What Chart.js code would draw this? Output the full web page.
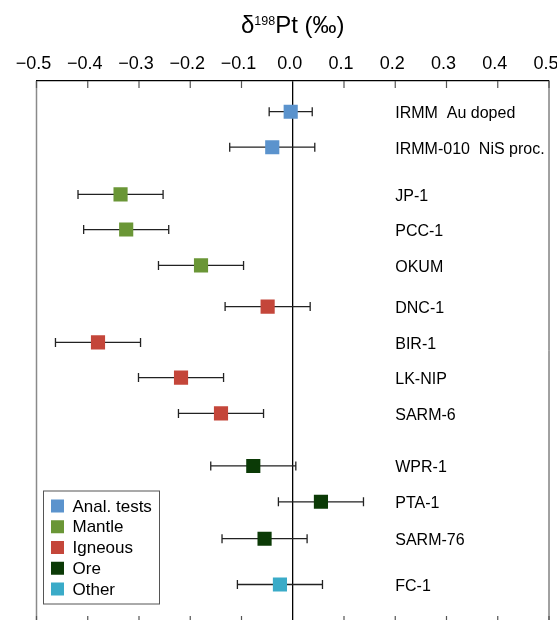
<!DOCTYPE html>
<html>
<head>
<meta charset="utf-8">
<script src="https://cdn.jsdelivr.net/npm/chart.js@4/dist/chart.umd.min.js"></script>
<style>
  html, body { margin: 0; padding: 0; background: #fff; overflow: hidden; }
</style>
</head>
<body>
<canvas id="chartPt" width="557" height="620"></canvas>
<script>
// sample data (delta198Pt in permil, 2sd error)
const sampleNames = ['IRMM  Au doped', 'IRMM-010  NiS proc.', 'JP-1', 'PCC-1', 'OKUM', 'DNC-1', 'BIR-1',
    'LK-NIP', 'SARM-6', 'WPR-1', 'PTA-1', 'SARM-76', 'FC-1'];
const sampleGroups = ['Anal. tests', 'Anal. tests', 'Mantle', 'Mantle', 'Mantle', 'Igneous', 'Igneous',
    'Igneous', 'Igneous', 'Ore', 'Ore', 'Ore', 'Other'];
const delta198Pt = [-0.004, -0.04, -0.336, -0.325, -0.179, -0.049, -0.380, -0.218, -0.140, -0.077, 0.055, -0.055, -0.025];
const err2sd = [0.042, 0.083, 0.083, 0.083, 0.083, 0.083, 0.083, 0.083, 0.083, 0.083, 0.083, 0.083, 0.083];
// vertical row position of each sample (groups are spaced apart a bit)
const rowPos = [1, 2, 3.33, 4.32, 5.33, 6.49, 7.5, 8.49, 9.5, 10.98, 11.99, 13.03, 14.32];

const groupNames = ['Anal. tests', 'Mantle', 'Igneous', 'Ore', 'Other'];
const groupColours = ['#5b93cd', '#6a9636', '#c4463a', '#0b3a06', '#3aabc8'];

const xTicks = [-0.5, -0.4, -0.3, -0.2, -0.1, 0, 0.1, 0.2, 0.3, 0.4, 0.5];
const xTickLabels = ['\u22120.5', '\u22120.4', '\u22120.3', '\u22120.2', '\u22120.1', '0.0', '0.1', '0.2', '0.3', '0.4', '0.5'];

const FONT = '"Liberation Sans", Arial, Helvetica, sans-serif';
const labelX = 0.2; // sample names start at this x value

const buildDatasets = function () {
    return groupNames.map(function (group, g) {
        let pts = [];
        sampleNames.forEach(function (name, i) {
            if (sampleGroups[i] === group) {
                pts.push({ x: delta198Pt[i], y: rowPos[i], err: err2sd[i], name: name });
            }
        });
        return {
            label: group,
            data: pts,
            backgroundColor: groupColours[g],
            borderColor: groupColours[g],
            borderWidth: 0,
            pointStyle: 'rect',
            pointRadius: 10,
            pointHoverRadius: 10
        };
    });
};

// horizontal error bars with end caps, drawn under the squares
const errorBarPlugin = {
    id: 'errorBars',
    beforeDatasetsDraw(chart) {
        const ctx = chart.ctx;
        const xs = chart.scales.x, ys = chart.scales.y;
        ctx.save();
        ctx.strokeStyle = '#222';
        ctx.lineWidth = 1.3;
        chart.data.datasets.forEach(ds => {
            ds.data.forEach(p => {
                const lo = xs.getPixelForValue(p.x - p.err);
                const hi = xs.getPixelForValue(p.x + p.err);
                const py = ys.getPixelForValue(p.y);
                ctx.beginPath();
                ctx.moveTo(lo, py); ctx.lineTo(hi, py);
                ctx.moveTo(lo, py - 4.5); ctx.lineTo(lo, py + 4.5);
                ctx.moveTo(hi, py - 4.5); ctx.lineTo(hi, py + 4.5);
                ctx.stroke();
            });
        });
        ctx.restore();
    }
};

// sample names, title, frame, inward ticks and the boxed legend
const decorPlugin = {
    id: 'decor',
    afterDatasetsDraw(chart) {
        const ctx = chart.ctx;
        const xs = chart.scales.x, ys = chart.scales.y;
        const area = chart.chartArea;
        ctx.save();

        // names
        ctx.font = '16px ' + FONT;
        ctx.fillStyle = '#000';
        ctx.textBaseline = 'middle';
        ctx.textAlign = 'left';
        chart.data.datasets.forEach(ds => {
            ds.data.forEach(p => {
                ctx.fillText(p.name, xs.getPixelForValue(labelX), ys.getPixelForValue(p.y) + 2);
            });
        });

        // frame: left (grey) and right
        ctx.lineWidth = 1.5;
        ctx.strokeStyle = '#8a8a8a';
        ctx.beginPath();
        ctx.moveTo(area.left, area.top); ctx.lineTo(area.left, area.bottom);
        ctx.stroke();
        ctx.lineWidth = 1;
        ctx.strokeStyle = '#444';
        ctx.beginPath();
        ctx.moveTo(area.right, area.top); ctx.lineTo(area.right, area.bottom);
        ctx.stroke();

        // ticks pointing inwards, top and bottom
        ctx.strokeStyle = '#555';
        ctx.lineWidth = 1.2;
        xs.ticks.forEach(t => {
            if (t.value === 0) return;
            const px = xs.getPixelForValue(t.value);
            ctx.beginPath();
            ctx.moveTo(px, area.top); ctx.lineTo(px, area.top + 7);
            ctx.moveTo(px, area.bottom); ctx.lineTo(px, area.bottom - 4);
            ctx.stroke();
        });

        // title with superscript mass number
        const cx = xs.getPixelForValue(0);
        const big = '24px ' + FONT, small = '12.5px ' + FONT;
        ctx.font = big;
        const wDelta = ctx.measureText('\u03b4').width;
        const wRest = ctx.measureText('Pt (\u2030)').width;
        ctx.font = small;
        const wSup = ctx.measureText('198').width;
        let tx = cx - (wDelta + wSup + wRest) / 2;
        ctx.textBaseline = 'alphabetic';
        ctx.font = big;
        ctx.fillText('\u03b4', tx, 33);
        tx += wDelta;
        ctx.font = small;
        ctx.fillText('198', tx, 25);
        tx += wSup;
        ctx.font = big;
        ctx.fillText('Pt (\u2030)', tx, 33);

        // legend
        const box = { left: 43.5, top: 491, width: 116, height: 113 };
        ctx.fillStyle = '#fff';
        ctx.fillRect(box.left, box.top, box.width, box.height);
        ctx.strokeStyle = '#555';
        ctx.lineWidth = 1;
        ctx.strokeRect(box.left, box.top, box.width, box.height);
        ctx.font = '17px ' + FONT;
        ctx.textBaseline = 'middle';
        chart.data.datasets.forEach((ds, i) => {
            const cy = 506 + i * 20.75;
            ctx.fillStyle = ds.backgroundColor;
            ctx.fillRect(51, cy - 6.5, 13, 13);
            ctx.fillStyle = '#000';
            ctx.fillText(ds.label, 72.5, cy + 1);
        });

        ctx.restore();
    }
};

new Chart(document.getElementById('chartPt'), {
    type: 'scatter',
    data: { datasets: buildDatasets() },
    options: {
        responsive: false,
        animation: false,
        events: [],
        layout: {
            autoPadding: false, // otherwise the point radius eats into the plot
            padding: { left: 36.5, right: 8, top: 0, bottom: 0 }
        },
        scales: {
            x: {
                type: 'linear',
                position: 'top',
                min: -0.5,
                max: 0.5,
                afterBuildTicks: function (scale) {
                    scale.ticks = xTicks.map(v => ({ value: v }));
                },
                afterFit: function (scale) {
                    scale.height = 81;
                    scale.paddingLeft = 0;
                    scale.paddingRight = 0;
                },
                ticks: {
                    autoSkip: false,
                    maxRotation: 0,
                    padding: 6,
                    labelOffset: -3,
                    color: '#000',
                    font: { family: FONT, size: 18 },
                    callback: function (value, index) {
                        return xTickLabels[index];
                    }
                },
                grid: {
                    drawTicks: false,
                    // only the zero line is drawn across the plot
                    color: ctx => (ctx.tick && ctx.tick.value === 0) ? '#000' : 'rgba(0,0,0,0)',
                    lineWidth: 1.3
                },
                border: { display: true, color: '#000', width: 1.2 }
            },
            y: {
                type: 'linear',
                display: false,
                reverse: true,
                min: 0.135,
                max: 15.32
            }
        },
        plugins: {
            legend: { display: false },
            tooltip: { enabled: false },
            title: { display: false }
        }
    },
    plugins: [errorBarPlugin, decorPlugin]
});
</script>
</body>
</html>
